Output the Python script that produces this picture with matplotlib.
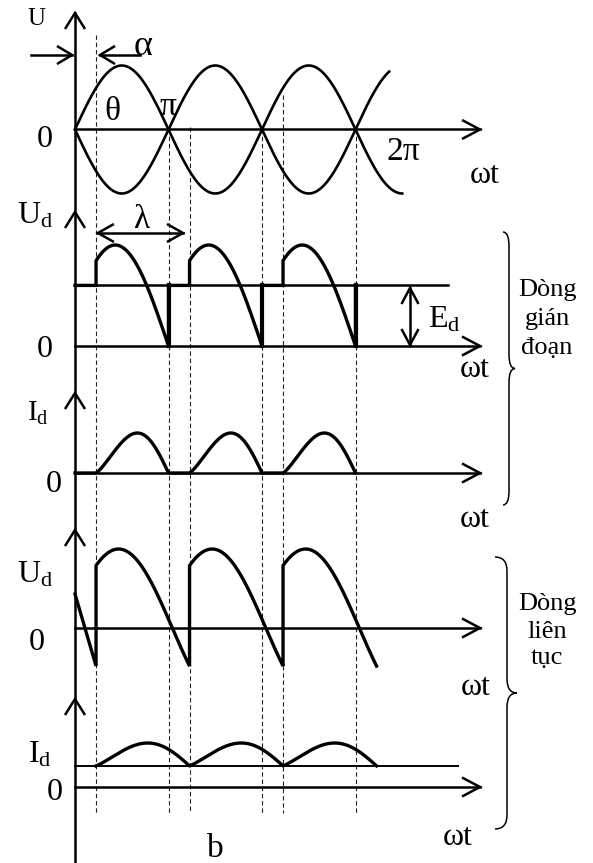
import numpy as np
import matplotlib
matplotlib.use('Agg')
import matplotlib.pyplot as plt
from matplotlib.path import Path
from matplotlib.patches import PathPatch

plt.rc('font', family='Liberation Serif')
plt.rc('mathtext', fontset='custom', rm='Liberation Serif', it='Liberation Serif:italic')

W, H = 593, 863
X0, PI_PX = 75, 93.5          # pixel of wt = 0 and pixel length of pi

# --- data (wt in units of pi) ---
alpha = 0.225                                   # firing angle
pulses = [0, 1, 2]
dash_u = [alpha, 1.0, 1 + alpha, 2.0, 2 + alpha, 3.0]
sin_end = 3.5                                   # end of +sin curve
negsin_end = 3.36                               # end of -sin curve

# discontinuous current
ud_disc_theta = [0.32, 1.0]     # phase of Ud arc at firing / at extinction
ed_level = 0.60                 # Ed / Um
id_disc_skew = 1.235

# continuous current
ud_cont_theta = [0.29, 1.16]
ud_cont_tail = [0.43, -0.48]    # Ud before first firing (at 0 and alpha)
id_cont_min = 0.48
id_cont_skew = 1.17
lam_end = 1.155                 # end of lambda arrow

# --- layout (pixels) ---
base_top, amp_top = 129.5, 64
base_ud1, amp_ud1 = 346, 101
base_id1, amp_id1 = 473, 40
base_ud2, amp_ud2 = 628, 79
base_id2, amp_id2 = 787, 44
axis_end = 480
vert_tips = [13, 212, 393, 530, 699]
dash_top = [35, 129, 127, 129, 95, 129]
dash_bot = 813

LW_W = 2.4   # waveform
LW_A = 1.8   # axes


def to_u(px):
    return (np.asarray(px, dtype=float) - X0) / PI_PX


def to_px(u):
    return X0 + np.asarray(u, dtype=float) * PI_PX


def arc(u0, u1, th0, th1, n=120):
    u = np.linspace(u0, u1, n)
    th = th0 + (th1 - th0) * (u - u0) / (u1 - u0)
    return list(u), list(np.sin(np.pi * th))


def hump(u0, u1, skew, n=120):
    t = np.linspace(0, 1, n)
    return list(u0 + (u1 - u0) * t), list(np.sin(np.pi * t ** skew))


fig = plt.figure(figsize=(W / 100, H / 100), dpi=100)
ax = fig.add_axes([0, 0, 1, 1])
ax.set_xlim(to_u(0), to_u(W))
ax.set_ylim(H, 0)
ax.axis('off')


def chevron(tip_x, tip_y, dx, dy, length=17, half=10, lw=LW_A):
    nx, ny = -dy, dx
    bx, by = tip_x - dx * length, tip_y - dy * length
    xs = [bx + nx * half, tip_x, bx - nx * half]
    ys = [by + ny * half, tip_y, by - ny * half]
    ax.plot(to_u(xs), ys, color='k', lw=lw, solid_capstyle='butt',
            solid_joinstyle='miter')


def harrow(y, x0=X0, x1=axis_end, lw=LW_A):
    ax.plot(to_u([x0, x1]), [y, y], color='k', lw=lw)
    chevron(x1, y, 1, 0, length=18, half=9.5)


def brace(x, y0, y1, stem, tip, lw=1.1):
    ym = (y0 + y1) / 2
    r = 14
    verts = [(x, y0), (x + stem, y0), (x + stem, y0 + r), (x + stem, y0 + r * 1.2),
             (x + stem, ym - r), (x + stem, ym), (x + tip, ym), (x + tip, ym),
             (x + tip, ym), (x + stem, ym), (x + stem, ym + r),
             (x + stem, y1 - r * 1.2), (x + stem, y1 - r), (x + stem, y1), (x, y1)]
    codes = [Path.MOVETO, Path.CURVE3, Path.CURVE3, Path.LINETO,
             Path.LINETO, Path.CURVE3, Path.CURVE3, Path.LINETO,
             Path.LINETO, Path.CURVE3, Path.CURVE3,
             Path.LINETO, Path.LINETO, Path.CURVE3, Path.CURVE3]
    verts = [(float(to_u(a)), b) for a, b in verts]
    ax.add_patch(PathPatch(Path(verts, codes), fill=False, lw=lw, ec='k'))


def label(x, y, s, size=23, ha='center'):
    ax.text(float(to_u(x)), y, s, fontsize=size, ha=ha, va='baseline')


# vertical axis with arrow heads for each panel
ax.plot([0, 0], [vert_tips[0], H], color='k', lw=LW_A)
for t in vert_tips:
    chevron(X0, t, 0, -1, length=16, half=10)

# dashed guide lines
for u, top in zip(dash_u, dash_top):
    ax.plot([u, u], [top, dash_bot], color='#222222', lw=0.8,
            linestyle=(0, (4, 2.5)))

# --- panel 1: supply voltages ---
harrow(base_top)
u = np.linspace(0, sin_end, 300)
ax.plot(u, base_top - amp_top * np.sin(np.pi * u), color='k', lw=1.9)
u = np.linspace(0, negsin_end, 300)
ax.plot(u, base_top + amp_top * np.sin(np.pi * u), color='k', lw=1.9)
# alpha arrows
ax.plot(to_u([31, 72]), [55, 55], color='k', lw=LW_A)
chevron(72, 55, 1, 0, length=15, half=9)
ax.plot(to_u([100, 140]), [55, 55], color='k', lw=LW_A)
chevron(100, 55, -1, 0, length=15, half=9)
label(36, 25, 'U', size=18)
label(143, 55, 'α', size=26)
label(112, 120, 'θ', size=24)
label(168, 115, 'π', size=24)
label(45, 147, '0')
label(403, 160, '2π', size=24)
label(485, 183, 'ωt')

# --- panel 2: Ud, discontinuous ---
harrow(base_ud1)
ax.plot([0, to_u(448)], [base_ud1 - amp_ud1 * ed_level] * 2, color='k', lw=LW_A)
us, vs = [0.0], [ed_level]
for k in pulses:
    a, v = arc(alpha + k, 1 + k, *ud_disc_theta)
    us += [alpha + k] + a + [1 + k]
    vs += [ed_level] + v + [ed_level]
ax.plot(us, base_ud1 - amp_ud1 * np.array(vs), color='k', lw=LW_W,
        solid_joinstyle='miter')
for k in pulses:
    ax.plot([1 + k, 1 + k], [base_ud1, base_ud1 - amp_ud1 * ed_level],
            color='k', lw=3.0)
# lambda arrow
ly = 233
ax.plot([alpha + 0.02, lam_end], [ly, ly], color='k', lw=LW_A)
chevron(float(to_px(alpha + 0.02)), ly, -1, 0, length=16, half=9)
chevron(float(to_px(lam_end)), ly, 1, 0, length=16, half=9)
label(141, 228, 'λ', size=24)
# Ed arrow
ex = 410
ax.plot(to_u([ex, ex]), [288, 345], color='k', lw=LW_A)
chevron(ex, 288, 0, -1, length=16, half=8.5)
chevron(ex, 345, 0, 1, length=16, half=8.5)
label(428, 327, r'E$_{\mathrm{d}}$', ha='left')
label(17, 223, r'U$_{\mathrm{d}}$', ha='left')
label(45, 357, '0')
label(475, 377, 'ωt')
brace(503, 232, 505, 6, 12)
for s, y in zip(['Dòng', 'gián', 'đoạn'], [296, 325, 354]):
    label(547, y, s, size=19)

# --- panel 3: Id, discontinuous ---
harrow(base_id1)
us, vs = [0.0], [0.0]
for k in pulses:
    a, v = hump(alpha + k, 1 + k, id_disc_skew)
    us += a
    vs += v
ax.plot(us, base_id1 - amp_id1 * np.array(vs), color='k', lw=LW_W)
label(27, 421, r'I$_{\mathrm{d}}$', size=21, ha='left')
label(54, 492, '0')
label(475, 527, 'ωt')

# --- panel 4: Ud, continuous ---
harrow(base_ud2)
us, vs = [0.0, alpha], list(ud_cont_tail)
for k in pulses:
    a, v = arc(alpha + k, alpha + k + 1, *ud_cont_theta)
    us += a
    vs += v
ax.plot(us, base_ud2 - amp_ud2 * np.array(vs), color='k', lw=LW_W,
        solid_joinstyle='miter')
label(17, 582, r'U$_{\mathrm{d}}$', ha='left')
label(37, 650, '0')
label(476, 695, 'ωt')
brace(495, 557, 829, 12, 22)
for s, y in zip(['Dòng', 'liên', 'tục'], [610, 638, 664]):
    label(547, y, s, size=19)

# --- panel 5: Id, continuous ---
harrow(base_id2)
ax.plot([0, to_u(458)], [base_id2 - amp_id2 * id_cont_min] * 2, color='k', lw=1.4)
us, vs = [], []
for k in pulses:
    a, v = hump(alpha + k, alpha + k + 1, id_cont_skew)
    us += a
    vs += list(id_cont_min + (1 - id_cont_min) * np.array(v))
ax.plot(us, base_id2 - amp_id2 * np.array(vs), color='k', lw=LW_W)
label(28, 762, r'I$_{\mathrm{d}}$', ha='left')
label(55, 800, '0')
label(458, 845, 'ωt')
label(215, 857, 'b', size=24)

fig.savefig('out.png', dpi=100)
